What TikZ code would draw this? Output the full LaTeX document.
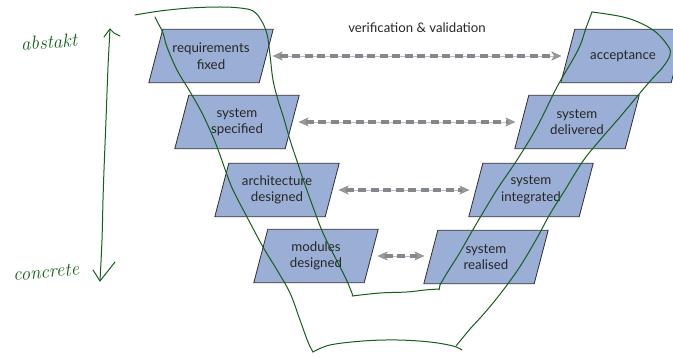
\documentclass[tikz,border=0pt]{standalone}
\usepackage{fontspec}
\newfontfamily\uifont{Lato}
\usetikzlibrary{arrows.meta,backgrounds}

\definecolor{stagefill}{RGB}{154,174,214}
\definecolor{stageline}{RGB}{45,45,50}
\definecolor{dashgray}{RGB}{135,135,135}
\definecolor{railblue}{RGB}{170,192,232}
\definecolor{ink}{RGB}{20,95,25}

\begin{document}
\begin{tikzpicture}[x=1pt,y=-1pt,
  stagetext/.style={font=\uifont\fontsize{13.3}{16.5}\selectfont, text=black!85,
    minimum width=110pt, minimum height=53pt, inner sep=0pt, align=center},
  stagebox/.style={fill=stagefill, draw=stageline, line width=0.8pt, line join=miter},
  rail/.style={draw=railblue, line width=0.9pt, shorten >=9pt, shorten <=9pt},
  vvarrow/.style={draw=dashgray, line width=3.3pt, dash pattern=on 8pt off 4.5pt,
    shorten >=6.5pt, shorten <=6.5pt,
    {Stealth[length=10pt,width=9pt,inset=3pt,line width=0.4pt,fill=dashgray!85]}-{Stealth[length=10pt,width=9pt,inset=3pt,line width=0.4pt,fill=dashgray!85]}},
  pen/.style={draw=ink, line width=1pt, line cap=round, line join=round},
  hand/.style={text=ink, font=\itshape\fontsize{19}{19}\selectfont, inner sep=0pt}]

\useasboundingbox (0,0) rectangle (673,358);

% left leg: specification stages
\node[stagetext] (req)   at (211,56)   {requirements\\fixed};
\node[stagetext] (spec)  at (237,122)  {system\\specified};
\node[stagetext] (arch)  at (277,190)  {architecture\\designed};
\node[stagetext] (mod)   at (316,256)  {modules\\designed};
% right leg: realisation stages
\node[stagetext] (acc)   at (623,56)   {acceptance};
\node[stagetext] (deliv) at (577,122)  {system\\delivered};
\node[stagetext] (integ) at (531,190)  {system\\integrated};
\node[stagetext] (real)  at (486,257)  {system\\realised};

\begin{scope}[on background layer]
  \foreach \n in {req,spec,arch,mod,acc,deliv,integ,real}
    \draw[stagebox] ([xshift=7pt]\n.north west) -- ([xshift=7pt]\n.north east)
      -- ([xshift=-7pt]\n.south east) -- ([xshift=-7pt]\n.south west) -- cycle;
\end{scope}

\node[font=\uifont\fontsize{13.2}{15}\selectfont, text=black!85] (vvlabel) at (417,28) {verification \& validation};

% verification links between matching stages
\foreach \a/\b in {req/acc,spec/deliv,arch/integ,mod/real}{
  \draw[rail] (\a.east) -- (\a.east -| \b.west);
  \draw[vvarrow] (\a.east) -- (\a.east -| \b.west);
}

% handwritten notes
\node[hand, rotate=4] (abs) at (49,42) {abstakt};
\node[hand, rotate=5] (con) at (46,272) {concrete};

% abstraction axis
\draw[pen] plot[smooth] coordinates {(110,29) (108,67) (106,120) (104,170) (103,200) (102,240) (100,281)};
\draw[pen] (104,37) -- (110,29) -- (114,33) -- (120,36);
\draw[pen] (93,270) -- (100,281) -- (115,262);

% outline of the V
\draw[pen] plot[smooth, tension=0.6] coordinates {(155,17) (158,23) (163,33) (167,47) (177,70) (189,90) (202,113) (213,137) (220,155) (226,172) (233,190) (247,217) (263,247) (277,270) (290,293) (300,320) (308,342) (313,352)};
\draw[pen] plot[smooth, tension=0.6] coordinates {(313,352) (330,345) (363,341) (397,340) (430,342) (453,346) (462,350)};
\draw[pen] plot[smooth, tension=0.6] coordinates {(456,346) (470,329) (481,317) (493,303) (507,285) (521,265) (537,238) (550,214) (565,190) (583,161) (600,140) (620,117) (640,93) (652,79) (663,67) (670,55) (668,46) (653,30) (627,18) (592,12)};
\draw[pen] plot[smooth, tension=0.6] coordinates {(592,12) (586,28) (578,50) (557,87) (537,127) (517,160) (498,188) (484,211) (471,233) (459,254) (447,273) (440,285)};
\draw[pen] (440,285) -- (439,290);
\draw[pen] plot[smooth, tension=0.6] coordinates {(439,289) (425,290) (407,292) (380,293) (352,296)};
\draw[pen] plot[smooth, tension=0.6] coordinates {(353,296) (347,281) (337,261) (323,233) (313,207) (304,182) (297,161) (290,140) (284,119) (278,100) (273,80) (270,55) (267,34) (261,20) (253,11) (240,8) (220,7) (190,8) (160,11) (135,15)};

\end{tikzpicture}
\end{document}
